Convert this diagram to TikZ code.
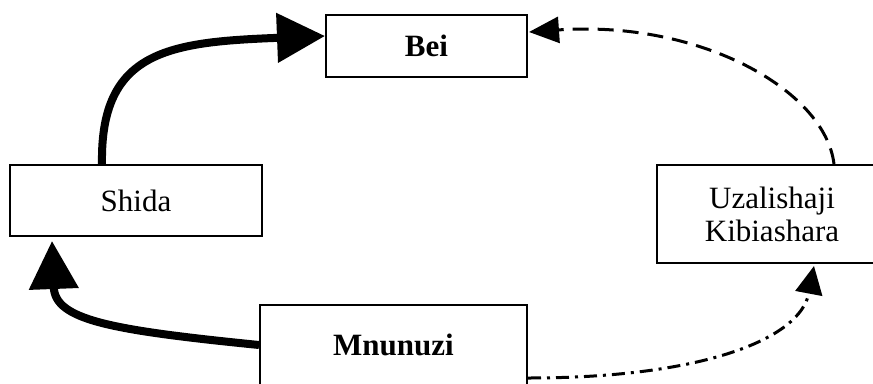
\documentclass[tikz,border=0pt]{standalone}
\usepackage{fontspec}
\setmainfont{Liberation Serif}
\usetikzlibrary{arrows.meta,calc}
\begin{document}
\begin{tikzpicture}[x=1pt,y=-1pt,
  box/.style={draw,line width=2pt,rectangle,inner sep=0pt,align=center,font=\fontsize{31}{33}\selectfont},
  boldbox/.style={box,font=\bfseries\fontsize{31}{33}\selectfont},
  thickarr/.style={line width=8pt,-{Triangle[length=48pt,width=48pt]}},
  dasharr/.style={line width=3pt,dash pattern=on 16pt off 9pt,-{Triangle[length=30pt,width=26pt]}},
  dotarr/.style={line width=3pt,dash pattern=on 13pt off 6pt on 3pt off 6pt,-{Triangle[length=28pt,width=27pt]}}]
\useasboundingbox (0,0) rectangle (873,383);
\node[boldbox,minimum width=201pt,minimum height=62pt] (bei) at (426.5,46) {Bei};
\node[box,minimum width=252pt,minimum height=71pt] (sh) at (136,200.5) {Shida};
\node[box,minimum width=230pt,minimum height=98pt] (uz) at (772,214) {Uzalishaji\\Kibiashara};
\node[boldbox,minimum width=267pt,minimum height=80pt] (mn) at (393.5,345) {Mnunuzi};
\draw[thickarr] ($(sh.north west)+(93,0)$) .. controls (100,50) and (170,42) .. ($(bei.north west)+(0,22)$);
\draw[thickarr] (mn.west) .. controls (110,330) and (55,320) .. ($(sh.south west)+(43,4)$);
\draw[dasharr] ($(uz.north west)+(178,0)$) .. controls (825,90) and (700,20) .. ($(bei.north east)+(1,18)$);
\draw[dotarr] ($(mn.south east)+(0,-8)$) .. controls (700,378) and (800,340) .. ($(uz.south west)+(158,2)$);
\end{tikzpicture}
\end{document}
